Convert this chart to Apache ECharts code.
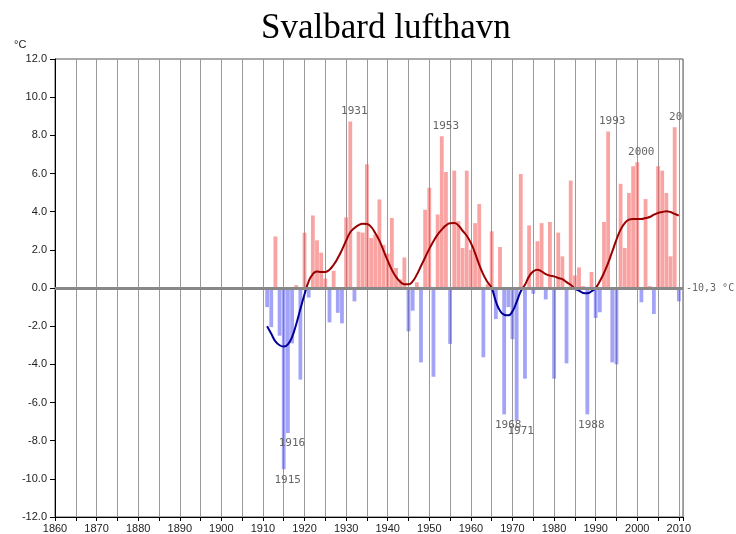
<!DOCTYPE html>
<html>
<head>
<meta charset="utf-8">
<script src="https://cdn.jsdelivr.net/npm/echarts@6/dist/echarts.min.js"></script>
<style>
  html, body { margin: 0; padding: 0; background: #fff; }
  #chart { width: 736px; height: 534px; }
</style>
</head>
<body>
<div id="chart"></div>
<script>
// yearly deviation from normal (°C), 1911 - 2010
const firstYear = 1911;
const anomalies = [
  -1.0, -2.05, 2.7, -2.5, -9.5, -7.6, -2.9, 0.15, -4.8, 2.9,      // 1911-1920
  -0.5, 3.8, 2.5, 1.85, 0.5, -1.8, 0.9, -1.3, -1.85, 3.7,        // 1921-1930
  8.72, -0.7, 2.95, 2.9, 6.48, 2.62, 2.8, 4.64, 2.26, 1.8,       // 1931-1940
  3.67, 1.05, 0.45, 1.6, -2.27, -1.19, 0.3, -3.9, 4.1, 5.25,     // 1941-1950
  -4.65, 3.85, 7.95, 6.08, -2.93, 6.15, 3.5, 2.1, 6.15, 2.0,     // 1951-1960
  3.4, 4.4, -3.63, 0.2, 2.97, -1.63, 2.15, -6.62, -1.0, -2.68,   // 1961-1970
  -6.95, 5.97, -4.75, 3.28, -0.3, 2.45, 3.4, -0.6, 3.46, -4.75,  // 1971-1980
  2.9, 1.66, -3.95, 5.63, 0.66, 1.08, 0.1, -6.62, 0.84, -1.57,   // 1981-1990
  -1.27, 3.46, 8.2, -3.9, -4.0, 5.46, 2.1, 4.98, 6.38, 6.59,     // 1991-2000
  -0.75, 4.66, 0.1, -1.36, 6.38, 6.15, 4.98, 1.66, 8.42, -0.7    // 2001-2010
];
// smoothed curve, same years
const smoothed = [
  -2.0, -2.4, -2.8, -3.0, -3.07, -2.95, -2.57, -1.9, -1.1, -0.33,
  0.35, 0.73, 0.87, 0.84, 0.84, 0.96, 1.22, 1.57, 2.0, 2.48,
  2.92, 3.14, 3.3, 3.37, 3.35, 3.2, 2.88, 2.48, 1.96, 1.43,
  0.95, 0.58, 0.33, 0.2, 0.2, 0.35, 0.7, 1.15, 1.6, 2.05,
  2.45, 2.8, 3.06, 3.28, 3.39, 3.4, 3.28, 3.0, 2.74, 2.36,
  1.83, 1.22, 0.7, 0.31, 0.0, -0.7, -1.19, -1.4, -1.43, -1.22,
  -0.73, -0.17, 0.17, 0.61, 0.87, 0.96, 0.87, 0.73, 0.65, 0.61,
  0.52, 0.47, 0.31, 0.17, -0.03, -0.14, -0.26, -0.28, -0.17, 0.0,
  0.35, 0.79, 1.31, 1.92, 2.53, 3.06, 3.4, 3.58, 3.62, 3.62,
  3.62, 3.67, 3.72, 3.84, 3.93, 3.98, 4.02, 3.98, 3.88, 3.79
];
const labelYears = [1915, 1916, 1931, 1953, 1968, 1971, 1988, 1993, 2000, 2009];
const normalText = '-10,3 °C';

const chart = echarts.init(document.getElementById('chart'));

const years = anomalies.map((_, i) => firstYear + i);

const barData = anomalies.map((v, i) => {
  const yr = years[i];
  const item = {
    value: [yr, v],
    itemStyle: { color: v >= 0 ? 'rgba(244, 88, 88, 0.55)' : 'rgba(88, 88, 240, 0.55)' },
  };
  if (labelYears.includes(yr)) {
    item.label = {
      show: true,
      position: v >= 0 ? 'top' : 'bottom',
      distance: 5,
      offset: [4, 0],
      formatter: String(yr),
    };
    // text runs into the right frame in the original
    if (yr > 2005) {
      item.label.width = 20;
      item.label.overflow = 'truncate';
      item.label.ellipsis = '';
      item.label.offset = [1, 0];
    }
  }
  return item;
});

const option = {
  animation: false,
  backgroundColor: '#fff',
  title: {
    text: 'Svalbard lufthavn',
    left: 256,
    top: 6,
    textStyle: { fontFamily: 'Liberation Serif', fontSize: 35, fontWeight: 'normal', color: '#000' },
  },
  graphic: [{
    type: 'text',
    left: 14,
    top: 39,
    style: { text: '°C', font: '11px "Liberation Sans"', fill: '#222' },
  }],
  grid: {
    left: 55, right: 53, top: 59, bottom: 17,
    show: true, borderColor: '#555', borderWidth: 1,
  },
  xAxis: {
    type: 'value',
    min: 1860,
    max: 2011,
    interval: 5,
    axisLine: { onZero: false, lineStyle: { color: '#000' } },
    axisTick: { length: 4, lineStyle: { color: '#000' } },
    axisLabel: {
      formatter: (v) => (v % 10 === 0 ? String(v) : ''),
      margin: 6,
      fontFamily: 'Liberation Sans',
      fontSize: 11,
      color: '#222',
    },
    splitLine: { show: true, lineStyle: { color: '#999' } },
  },
  yAxis: {
    type: 'value',
    min: -12,
    max: 12,
    interval: 2,
    axisLine: { show: true, onZero: false, lineStyle: { color: '#000' } },
    axisTick: { show: true, length: 5, lineStyle: { color: '#000' } },
    axisLabel: {
      formatter: (v) => v.toFixed(1),
      margin: 8,
      fontFamily: 'Liberation Sans',
      fontSize: 11,
      color: '#222',
    },
    splitLine: { show: false },
  },
  visualMap: {
    show: false,
    type: 'piecewise',
    seriesIndex: 1,
    dimension: 1,
    pieces: [
      { gt: -20, lt: 0, color: '#000099' },
      { gte: 0, lt: 20, color: '#990000' },
    ],
  },
  series: [
    {
      type: 'bar',
      data: barData,
      barWidth: 3.8,
      label: { fontFamily: 'DejaVu Sans Mono', fontSize: 11, color: '#666' },
      markLine: {
        silent: true,
        symbol: ['none', 'none'],
        data: [{ yAxis: 0 }],
        lineStyle: { color: '#888', width: 3, type: 'solid' },
        label: {
          position: 'end',
          formatter: normalText,
          distance: 3,
          fontFamily: 'DejaVu Sans Mono',
          fontSize: 10,
          color: '#666',
        },
      },
    },
    {
      type: 'line',
      data: smoothed.map((v, i) => [years[i], v]),
      smooth: true,
      showSymbol: false,
      lineStyle: { width: 2 },
    },
  ],
};

chart.setOption(option);
</script>
</body>
</html>
